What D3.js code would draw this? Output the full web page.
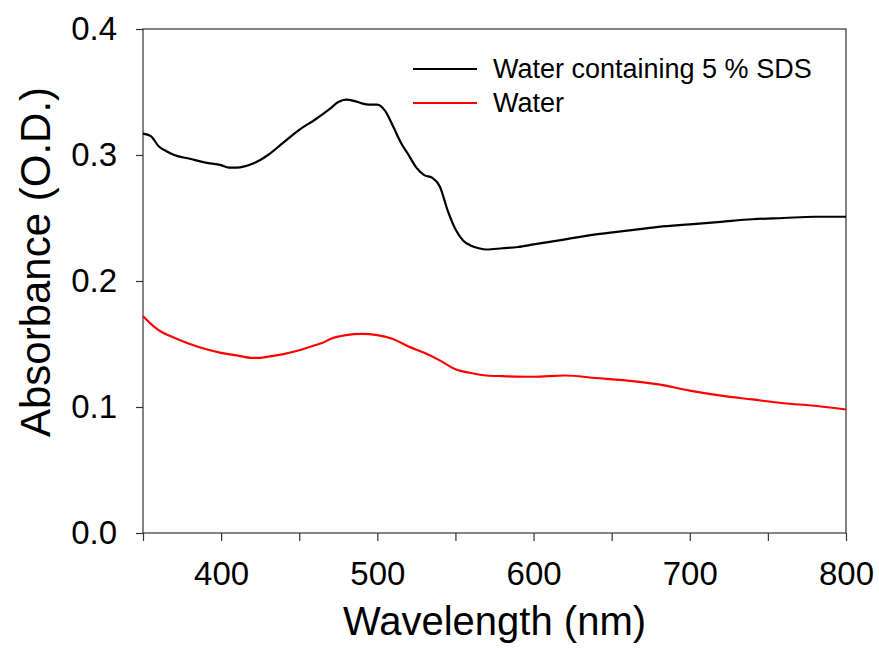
<!DOCTYPE html>
<html>
  <head>
    <meta charset="utf-8">
    <script src="https://d3js.org/d3.v7.min.js"></script>
    <style>
      body { margin: 0; background: #fff; }
      text { font-family: "Liberation Sans", Arial, sans-serif; }
    </style>
  </head>
  <body>
    <div id="chart"></div>
    <script type="text/javascript">

      // wavelength (nm) and absorbance
      var sdsWave = [350,355,360,365,370,380,390,400,405,410,415,420,425,430,440,450,460,470,475,480,485,490,495,500,505,510,515,520,525,530,535,540,545,550,555,560,565,570,580,590,600,620,640,660,680,700,720,740,760,780,800];
      var sdsAbs  = [0.317,0.315,0.307,0.303,0.300,0.297,0.294,0.292,0.290,0.290,0.291,0.293,0.296,0.300,0.310,0.320,0.328,0.337,0.342,0.344,0.343,0.341,0.340,0.340,0.335,0.323,0.310,0.300,0.290,0.284,0.282,0.275,0.256,0.241,0.232,0.228,0.226,0.225,0.226,0.227,0.229,0.233,0.237,0.240,0.243,0.245,0.247,0.249,0.250,0.251,0.251];

      var waterWave = [350,355,360,370,380,390,400,410,420,425,430,440,450,460,465,470,480,490,500,510,520,530,540,550,560,570,580,600,620,640,660,680,700,720,740,760,780,800];
      var waterAbs  = [0.172,0.166,0.161,0.155,0.150,0.146,0.143,0.141,0.139,0.139,0.140,0.142,0.145,0.149,0.151,0.154,0.157,0.158,0.157,0.154,0.148,0.143,0.137,0.130,0.127,0.125,0.1245,0.124,0.125,0.123,0.121,0.118,0.113,0.109,0.106,0.103,0.101,0.098];

      var xTicks = [350,400,450,500,550,600,650,700,750,800];
      var xLabels = [400,500,600,700,800];
      var yTicks = [0.0,0.1,0.2,0.3,0.4];

      var seriesNames = ["Water containing 5 % SDS", "Water"];
      var seriesColors = ["#000000", "#ff0000"];

      var margin = {top: 29, right: 33, bottom: 115, left: 143},
          width = 879 - margin.left - margin.right,
          height = 648 - margin.top - margin.bottom;

      var svg = d3.select("#chart")
          .append("svg")
          .attr("width", 879)
          .attr("height", 648)
          .append("g")
          .attr("transform", "translate(" + margin.left + "," + margin.top + ")");

      var x = d3.scaleLinear().domain([350, 800]).range([0, width]);
      var y = d3.scaleLinear().domain([0, 0.4]).range([height, 0]);

      // frame
      svg.append("rect")
        .attr("width", width)
        .attr("height", height)
        .attr("fill", "none")
        .attr("stroke", "#333")
        .attr("stroke-width", 1.2);

      var xAxis = svg.append("g")
        .attr("transform", "translate(0," + height + ")")
        .call(d3.axisBottom(x).tickValues(xTicks).tickSize(8).tickSizeOuter(0)
          .tickFormat(function(d) { return xLabels.indexOf(d) >= 0 ? d : ""; }));
      xAxis.select(".domain").remove();
      xAxis.selectAll("line").attr("stroke", "#333").attr("stroke-width", 1.2);
      xAxis.selectAll("text")
        .attr("font-size", 33)
        .attr("font-family", "Liberation Sans, Arial, sans-serif")
        .attr("fill", "#000")
        .attr("dy", "1.25em");

      var yAxis = svg.append("g")
        .call(d3.axisLeft(y).tickValues(yTicks).tickSize(7).tickSizeOuter(0)
          .tickFormat(d3.format(".1f")));
      yAxis.select(".domain").remove();
      yAxis.selectAll("line").attr("stroke", "#333").attr("stroke-width", 1.2);
      yAxis.selectAll("text")
        .attr("font-size", 33)
        .attr("font-family", "Liberation Sans, Arial, sans-serif")
        .attr("fill", "#000")
        .attr("x", -26);

      var line = d3.line()
        .x(function(d) { return x(d[0]); })
        .y(function(d) { return y(d[1]); })
        .curve(d3.curveMonotoneX);

      var series = [d3.zip(sdsWave, sdsAbs), d3.zip(waterWave, waterAbs)];

      svg.selectAll(".spectrum")
        .data(series)
        .enter().append("path")
        .attr("class", "spectrum")
        .attr("d", line)
        .attr("fill", "none")
        .attr("stroke", function(d, i) { return seriesColors[i]; })
        .attr("stroke-width", 2.2);

      // legend
      var legend = svg.append("g")
        .attr("transform", "translate(270,40)");
      seriesNames.forEach(function(name, i) {
        legend.append("line")
          .attr("x1", 0).attr("x2", 64)
          .attr("y1", i * 34).attr("y2", i * 34)
          .attr("stroke", seriesColors[i])
          .attr("stroke-width", 2.2);
        legend.append("text")
          .attr("x", 80)
          .attr("y", i * 34)
          .attr("dy", "0.35em")
          .attr("font-size", 27)
          .text(name);
      });

      svg.append("text")
        .attr("x", width / 2)
        .attr("y", height + 102)
        .attr("text-anchor", "middle")
        .attr("font-size", 40)
        .text("Wavelength (nm)");

      svg.append("text")
        .attr("transform", "translate(" + (50 - margin.left) + "," + (262 - margin.top) + ") rotate(-90)")
        .attr("text-anchor", "middle")
        .attr("font-size", 42)
        .text("Absorbance (O.D.)");

    </script>
  </body>
</html>
